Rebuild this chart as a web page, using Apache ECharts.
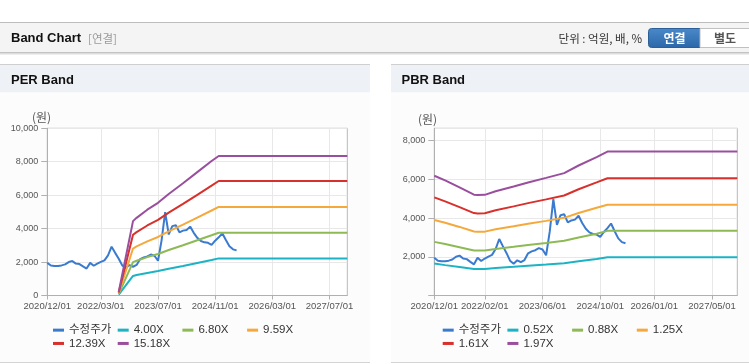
<!DOCTYPE html>
<html>
<head>
<meta charset="utf-8">
<script src="https://cdn.jsdelivr.net/npm/echarts@6/dist/echarts.min.js"></script>
<style>
html,body{margin:0;padding:0;background:#fff;}
#c{width:749px;height:364px;}
</style>
</head>
<body>
<div id="c"></div>
<script>
// ---- data ----
const perTicks = ['2020/12/01','2022/03/01','2023/07/01','2024/11/01','2026/03/01','2027/07/01'];
const pbrTicks = ['2020/12/01','2022/02/01','2023/06/01','2024/10/01','2026/01/01','2027/05/01'];

const priceName = '수정주가';
const priceValues = [1950,1790,1770,1770,1800,1860,2000,2060,1910,1880,1740,1610,1950,1780,1910,2010,2100,2400,2920,2550,
  2200,1800,1640,1820,1720,1830,2180,2280,2340,2450,2380,2080,3300,4980,3650,4150,4200,3780,3880,3920,
  4120,3750,3450,3260,3180,3150,3030,3280,3480,3720,3320,2950,2760,2700];

const perNames = ['4.00X','6.80X','9.59X','12.39X','15.18X'];
const perDates = ['2022/08/01','2022/12/01','2023/01/01','2023/04/01','2023/07/01','2023/10/01','2024/02/01','2024/06/01','2024/10/01','2024/12/01','2027/12/01'];
const per400  = [56, 1172, 1224, 1352, 1460, 1600, 1768, 1944, 2120, 2220, 2220];
const per680  = [95, 1992, 2081, 2298, 2482, 2720, 3006, 3305, 3604, 3756, 3756];
const per959  = [134, 2810, 2935, 3241, 3500, 3836, 4239, 4661, 5083, 5300, 5300];
const per1239 = [173, 3630, 3791, 4188, 4522, 4956, 5476, 6022, 6567, 6850, 6850];
const per1518 = [213, 4448, 4645, 5131, 5541, 6072, 6710, 7377, 8045, 8345, 8345];

const pbrNames = ['0.52X','0.88X','1.25X','1.61X','1.97X'];
const pbrDates = ['2020/12/01','2021/03/01','2021/07/01','2021/11/01','2021/12/01','2022/02/01','2022/05/01','2022/10/01','2023/02/01','2023/07/01','2023/12/01','2024/04/01','2024/09/01','2024/12/01','2027/12/01'];
const pbr052 = [1650, 1570, 1474, 1375, 1370, 1373, 1422, 1487, 1542, 1604, 1669, 1773, 1888, 1975, 1975];
const pbr088 = [2772, 2658, 2495, 2328, 2319, 2323, 2407, 2517, 2609, 2715, 2825, 3001, 3194, 3340, 3340];
const pbr125 = [3900, 3760, 3544, 3306, 3294, 3300, 3419, 3575, 3706, 3856, 4013, 4263, 4538, 4690, 4690];
const pbr161 = [5072, 4862, 4564, 4258, 4242, 4250, 4403, 4605, 4774, 4967, 5168, 5490, 5844, 6060, 6060];
const pbr197 = [6190, 5949, 5585, 5211, 5191, 5201, 5388, 5634, 5841, 6077, 6324, 6718, 7151, 7435, 7435];

const colors = ['#3b7bcf', '#1cb3c4', '#8dba55', '#f5a93c', '#d8302c', '#9a4f9e'];

// ---- axis scaffold: monthly categories 2020/12 .. 2027/12 ----
const months = [];
for (let y = 2020, m = 12; y < 2028; ) {
  months.push(y + '/' + (m < 10 ? '0' + m : m) + '/01');
  m++; if (m > 12) { m = 1; y++; }
}

const FONT = "'Liberation Sans', 'Noto Sans CJK KR', sans-serif";
const KFONT = "'Noto Sans CJK KR', 'Liberation Sans', sans-serif";
const addCommas = v => String(v).replace(/\B(?=(\d{3})+(?!\d))/g, ',');

function xAxisFor(grid, ticks) {
  const f = (i, v) => ticks.indexOf(v) >= 0;
  return {
    gridIndex: grid, type: 'category', boundaryGap: false, data: months,
    axisLine: { lineStyle: { color: '#b0b0b0' } },
    axisTick: { show: true, interval: f, length: 4, lineStyle: { color: '#b0b0b0' } },
    axisLabel: { interval: f, fontSize: 9.5, color: '#555', margin: 6, fontFamily: FONT },
    splitLine: { show: true, interval: f, lineStyle: { color: '#e8e8e8' } }
  };
}
function yAxisFor(grid, max, hideZero) {
  return {
    gridIndex: grid, type: 'value', min: 0, max: max, interval: 2000,
    axisLine: { show: true, lineStyle: { color: '#b0b0b0' } },
    axisTick: { show: true, length: 6, lineStyle: { color: '#b0b0b0' } },
    axisLabel: { fontSize: 9, color: '#555', margin: 9, fontFamily: FONT,
      showMaxLabel: max % 2000 === 0,
      formatter: v => (v % 2000 !== 0 || (hideZero && v === 0)) ? '' : addCommas(v) },
    splitLine: { show: true, lineStyle: { color: '#e8e8e8' } }
  };
}
function lineSeries(name, data, xi, color) {
  return { name, type: 'line', xAxisIndex: xi, yAxisIndex: xi, data, symbol: 'none',
    lineStyle: { width: 2, color }, itemStyle: { color }, silent: true };
}
const zip = (d, v) => d.map((x, i) => [x, v[i]]);

const series = [
  lineSeries(priceName, priceValues, 0, colors[0]),
  lineSeries(perNames[0], zip(perDates, per400), 0, colors[1]),
  lineSeries(perNames[1], zip(perDates, per680), 0, colors[2]),
  lineSeries(perNames[2], zip(perDates, per959), 0, colors[3]),
  lineSeries(perNames[3], zip(perDates, per1239), 0, colors[4]),
  lineSeries(perNames[4], zip(perDates, per1518), 0, colors[5]),
  lineSeries(priceName, priceValues, 1, colors[0]),
  lineSeries(pbrNames[0], zip(pbrDates, pbr052), 1, colors[1]),
  lineSeries(pbrNames[1], zip(pbrDates, pbr088), 1, colors[2]),
  lineSeries(pbrNames[2], zip(pbrDates, pbr125), 1, colors[3]),
  lineSeries(pbrNames[3], zip(pbrDates, pbr161), 1, colors[4]),
  lineSeries(pbrNames[4], zip(pbrDates, pbr197), 1, colors[5])
];

function legendFor(left, names) {
  return {
    left: left, top: 323.5, width: 262, padding: 0, itemGap: 0,
    itemWidth: 11, itemHeight: 3, icon: 'rect', selectedMode: false,
    data: [priceName].concat(names),
    textStyle: { fontSize: 11.5, color: '#333', width: 48.7, lineHeight: 13.3, fontFamily: FONT, padding: 0 }
  };
}

function rect(x, y, w, h, fill, extra) {
  return Object.assign({ type: 'rect', shape: { x, y, width: w, height: h }, style: { fill }, silent: true, z: -10 }, extra || {});
}
function text(x, y, t, font, fill, align) {
  return { type: 'text', x, y, silent: true, z: 10,
    style: { text: t, font, fill, textAlign: align || 'left', align: align || 'left', textVerticalAlign: 'middle', verticalAlign: 'middle' } };
}

const graphics = [
  rect(0, 22, 749, 1, '#bdbdbd'),
  rect(0, 23, 749, 29, '#f4f4f4'),
  rect(0, 52, 749, 1, '#c4c4c4'),
  rect(0, 53, 749, 1, '#dcdcdc'),
  rect(0, 54, 749, 1, '#eeeeee'),
  text(11, 38.5, 'Band Chart', "bold 13px 'Liberation Sans', sans-serif", '#111'),
  text(88, 38.5, '[연결]', "11.5px " + KFONT, '#9a9a9a'),
  text(642, 38.5, '단위 : 억원, 배, %', "11.5px " + KFONT, '#333', 'right'),
  { type: 'rect', shape: { x: 648.5, y: 28.5, width: 51.5, height: 19, r: [3, 0, 0, 3] }, silent: true, z: 5,
    style: { fill: new echarts.graphic.LinearGradient(0, 0, 0, 1, [{ offset: 0, color: '#4a89cb' }, { offset: 1, color: '#2b67a8' }]), stroke: '#2a5f98', lineWidth: 1 } },
  { type: 'rect', shape: { x: 700, y: 28.5, width: 55, height: 19 }, silent: true, z: 5,
    style: { fill: '#ffffff', stroke: '#c0c0c0', lineWidth: 1 } },
  text(674.5, 38.5, '연결', "bold 12px " + KFONT, '#ffffff', 'center'),
  text(725, 38.5, '별도', "bold 12px " + KFONT, '#555', 'center'),
  // PER panel
  rect(0, 64, 370, 1, '#cfcfcf'),
  rect(0, 65, 370, 27.5, '#eef1f6'),
  rect(0, 92.5, 370, 270, '#fcfcfc'),
  rect(0, 362, 370, 1, '#d4d4d4'),
  text(11, 80, 'PER Band', "bold 13px 'Liberation Sans', sans-serif", '#111'),
  // PBR panel
  rect(391, 64, 358, 1, '#cfcfcf'),
  rect(391, 65, 358, 27.5, '#eef1f6'),
  rect(391, 92.5, 358, 270, '#fcfcfc'),
  rect(391, 362, 358, 1, '#d4d4d4'),
  text(401.5, 80, 'PBR Band', "bold 13px 'Liberation Sans', sans-serif", '#111'),
  // unit labels
  text(41.5, 117, '(원)', "12px " + KFONT, '#555', 'center'),
  text(427.5, 119, '(원)', "12px " + KFONT, '#555', 'center')
];

const chart = echarts.init(document.getElementById('c'), null, { renderer: 'canvas' });
chart.setOption({
  animation: false,
  textStyle: { fontFamily: FONT },
  color: colors,
  grid: [
    { left: 47.3, top: 128.3, width: 300, height: 167.2, show: true, borderColor: '#b8b8b8', borderWidth: 1, backgroundColor: '#ffffff', containLabel: false },
    { left: 434.3, top: 128.3, width: 303, height: 167.2, show: true, borderColor: '#b8b8b8', borderWidth: 1, backgroundColor: '#ffffff', containLabel: false }
  ],
  xAxis: [xAxisFor(0, perTicks), xAxisFor(1, pbrTicks)],
  yAxis: [yAxisFor(0, 10000, false), yAxisFor(1, 8640, true)],
  legend: [legendFor(53, perNames), legendFor(442.7, pbrNames)],
  graphic: { elements: graphics },
  series: series
});
</script>
</body>
</html>
